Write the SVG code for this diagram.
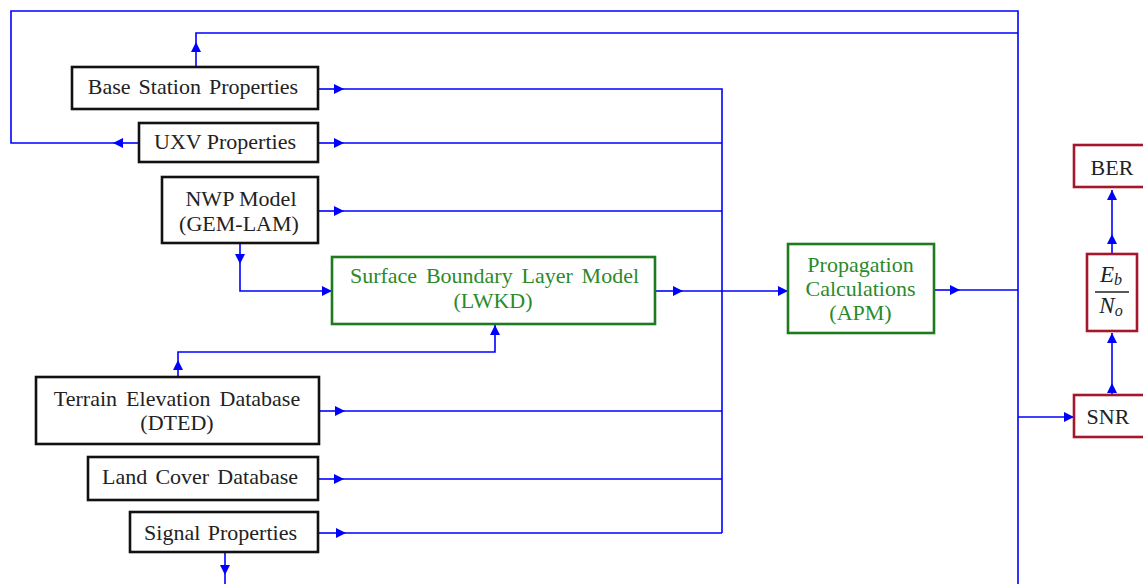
<svg xmlns="http://www.w3.org/2000/svg" width="1143" height="584" viewBox="0 0 1143 584">
<defs>
<style>
.bk{fill:#fff;stroke:#111;stroke-width:2.6}
.gn{fill:#fff;stroke:#1e7a1e;stroke-width:2.6}
.rd{fill:#fff;stroke:#a3182c;stroke-width:2.6}
.t{font-family:"Liberation Serif","Times New Roman",serif;font-size:22px;fill:#222;text-anchor:middle}
.tg{fill:#2a8a2a}
.it{font-style:italic;font-size:23px}
.sb{font-size:16px}
.ln{fill:none;stroke:#0000ff;stroke-width:1.6}
.ar{fill:none;stroke:#0000ff;stroke-width:1.6;marker-end:url(#a)}
</style>
<marker id="a" viewBox="0 0 10 10" refX="10" refY="5" markerWidth="11" markerHeight="10" markerUnits="userSpaceOnUse" orient="auto">
<path d="M0,0 L10,5 L0,10 z" fill="#0000ff"/>
</marker>
</defs>
<g id="connectors">
<path class="ar" d="M139,143 H113"/>
<path class="ln" d="M113,143 H11 V11 H1018 V584"/>
<path class="ar" d="M196,67 V42"/>
<path class="ln" d="M196,42 V33 H1018"/>
<path class="ar" d="M318,89 H344"/>
<path class="ln" d="M344,89 H722 V533"/>
<path class="ar" d="M318,143 H344"/>
<path class="ln" d="M344,143 H722"/>
<path class="ar" d="M318,211 H344"/>
<path class="ln" d="M344,211 H722"/>
<path class="ar" d="M240,243 V264"/>
<path class="ar" d="M240,264 V291 H332"/>
<path class="ar" d="M655,291 H683"/>
<path class="ar" d="M683,291 H788"/>
<path class="ar" d="M178,377 V360"/>
<path class="ar" d="M178,360 V352 H495 V325"/>
<path class="ar" d="M319,411 H345"/>
<path class="ln" d="M345,411 H722"/>
<path class="ar" d="M318,479 H344"/>
<path class="ln" d="M344,479 H722"/>
<path class="ar" d="M318,533 H346"/>
<path class="ln" d="M346,533 H722"/>
<path class="ar" d="M225,552 V575"/>
<path class="ln" d="M225,575 V584"/>
<path class="ar" d="M934,290 H960"/>
<path class="ln" d="M960,290 H1018"/>
<path class="ar" d="M1018,417 H1074"/>
<path class="ar" d="M1112,395 V383"/>
<path class="ar" d="M1112,383 V333"/>
<path class="ar" d="M1112,254 V234"/>
<path class="ar" d="M1112,234 V190"/>
</g>
<g id="base-station">
<rect class="bk" x="72" y="67" width="246" height="42"/>
<text class="t" x="193" y="94" style="word-spacing:2.5px">Base Station Properties</text>
</g>
<g id="uxv">
<rect class="bk" x="139" y="123" width="179" height="39"/>
<text class="t" x="225" y="149">UXV Properties</text>
</g>
<g id="nwp">
<rect class="bk" x="162" y="177" width="156" height="66"/>
<text class="t" x="241" y="206">NWP Model</text>
<text class="t" x="239" y="231">(GEM-LAM)</text>
</g>
<g id="surface">
<rect class="gn" x="332" y="257" width="323" height="67"/>
<text class="t tg" x="494.5" y="283" style="word-spacing:3.3px">Surface Boundary Layer Model</text>
<text class="t tg" x="493" y="308">(LWKD)</text>
</g>
<g id="terrain">
<rect class="bk" x="36" y="377" width="283" height="67"/>
<text class="t" x="177" y="406" style="word-spacing:3.6px">Terrain Elevation Database</text>
<text class="t" x="177" y="430">(DTED)</text>
</g>
<g id="land-cover">
<rect class="bk" x="88" y="457" width="230" height="43"/>
<text class="t" x="200" y="484" style="word-spacing:2.7px">Land Cover Database</text>
</g>
<g id="signal">
<rect class="bk" x="130" y="512" width="188" height="40"/>
<text class="t" x="220.5" y="540" style="word-spacing:2px">Signal Properties</text>
</g>
<g id="propagation">
<rect class="gn" x="788" y="244" width="146" height="89"/>
<text class="t tg" x="860.5" y="272">Propagation</text>
<text class="t tg" x="860.5" y="296">Calculations</text>
<text class="t tg" x="860.5" y="320">(APM)</text>
</g>
<g id="ber">
<rect class="rd" x="1074" y="145" width="76" height="42"/>
<text class="t" x="1112" y="175">BER</text>
</g>
<g id="ebno">
<rect class="rd" x="1087" y="254" width="50" height="77"/>
<text class="t it" x="1111" y="282">E<tspan class="sb" dy="3">b</tspan></text>
<line x1="1095" y1="292" x2="1129" y2="292" stroke="#222" stroke-width="1.4"/>
<text class="t it" x="1111" y="313">N<tspan class="sb" dy="3">o</tspan></text>
</g>
<g id="snr">
<rect class="rd" x="1074" y="395" width="76" height="42"/>
<text class="t" x="1108" y="424">SNR</text>
</g>
</svg>
